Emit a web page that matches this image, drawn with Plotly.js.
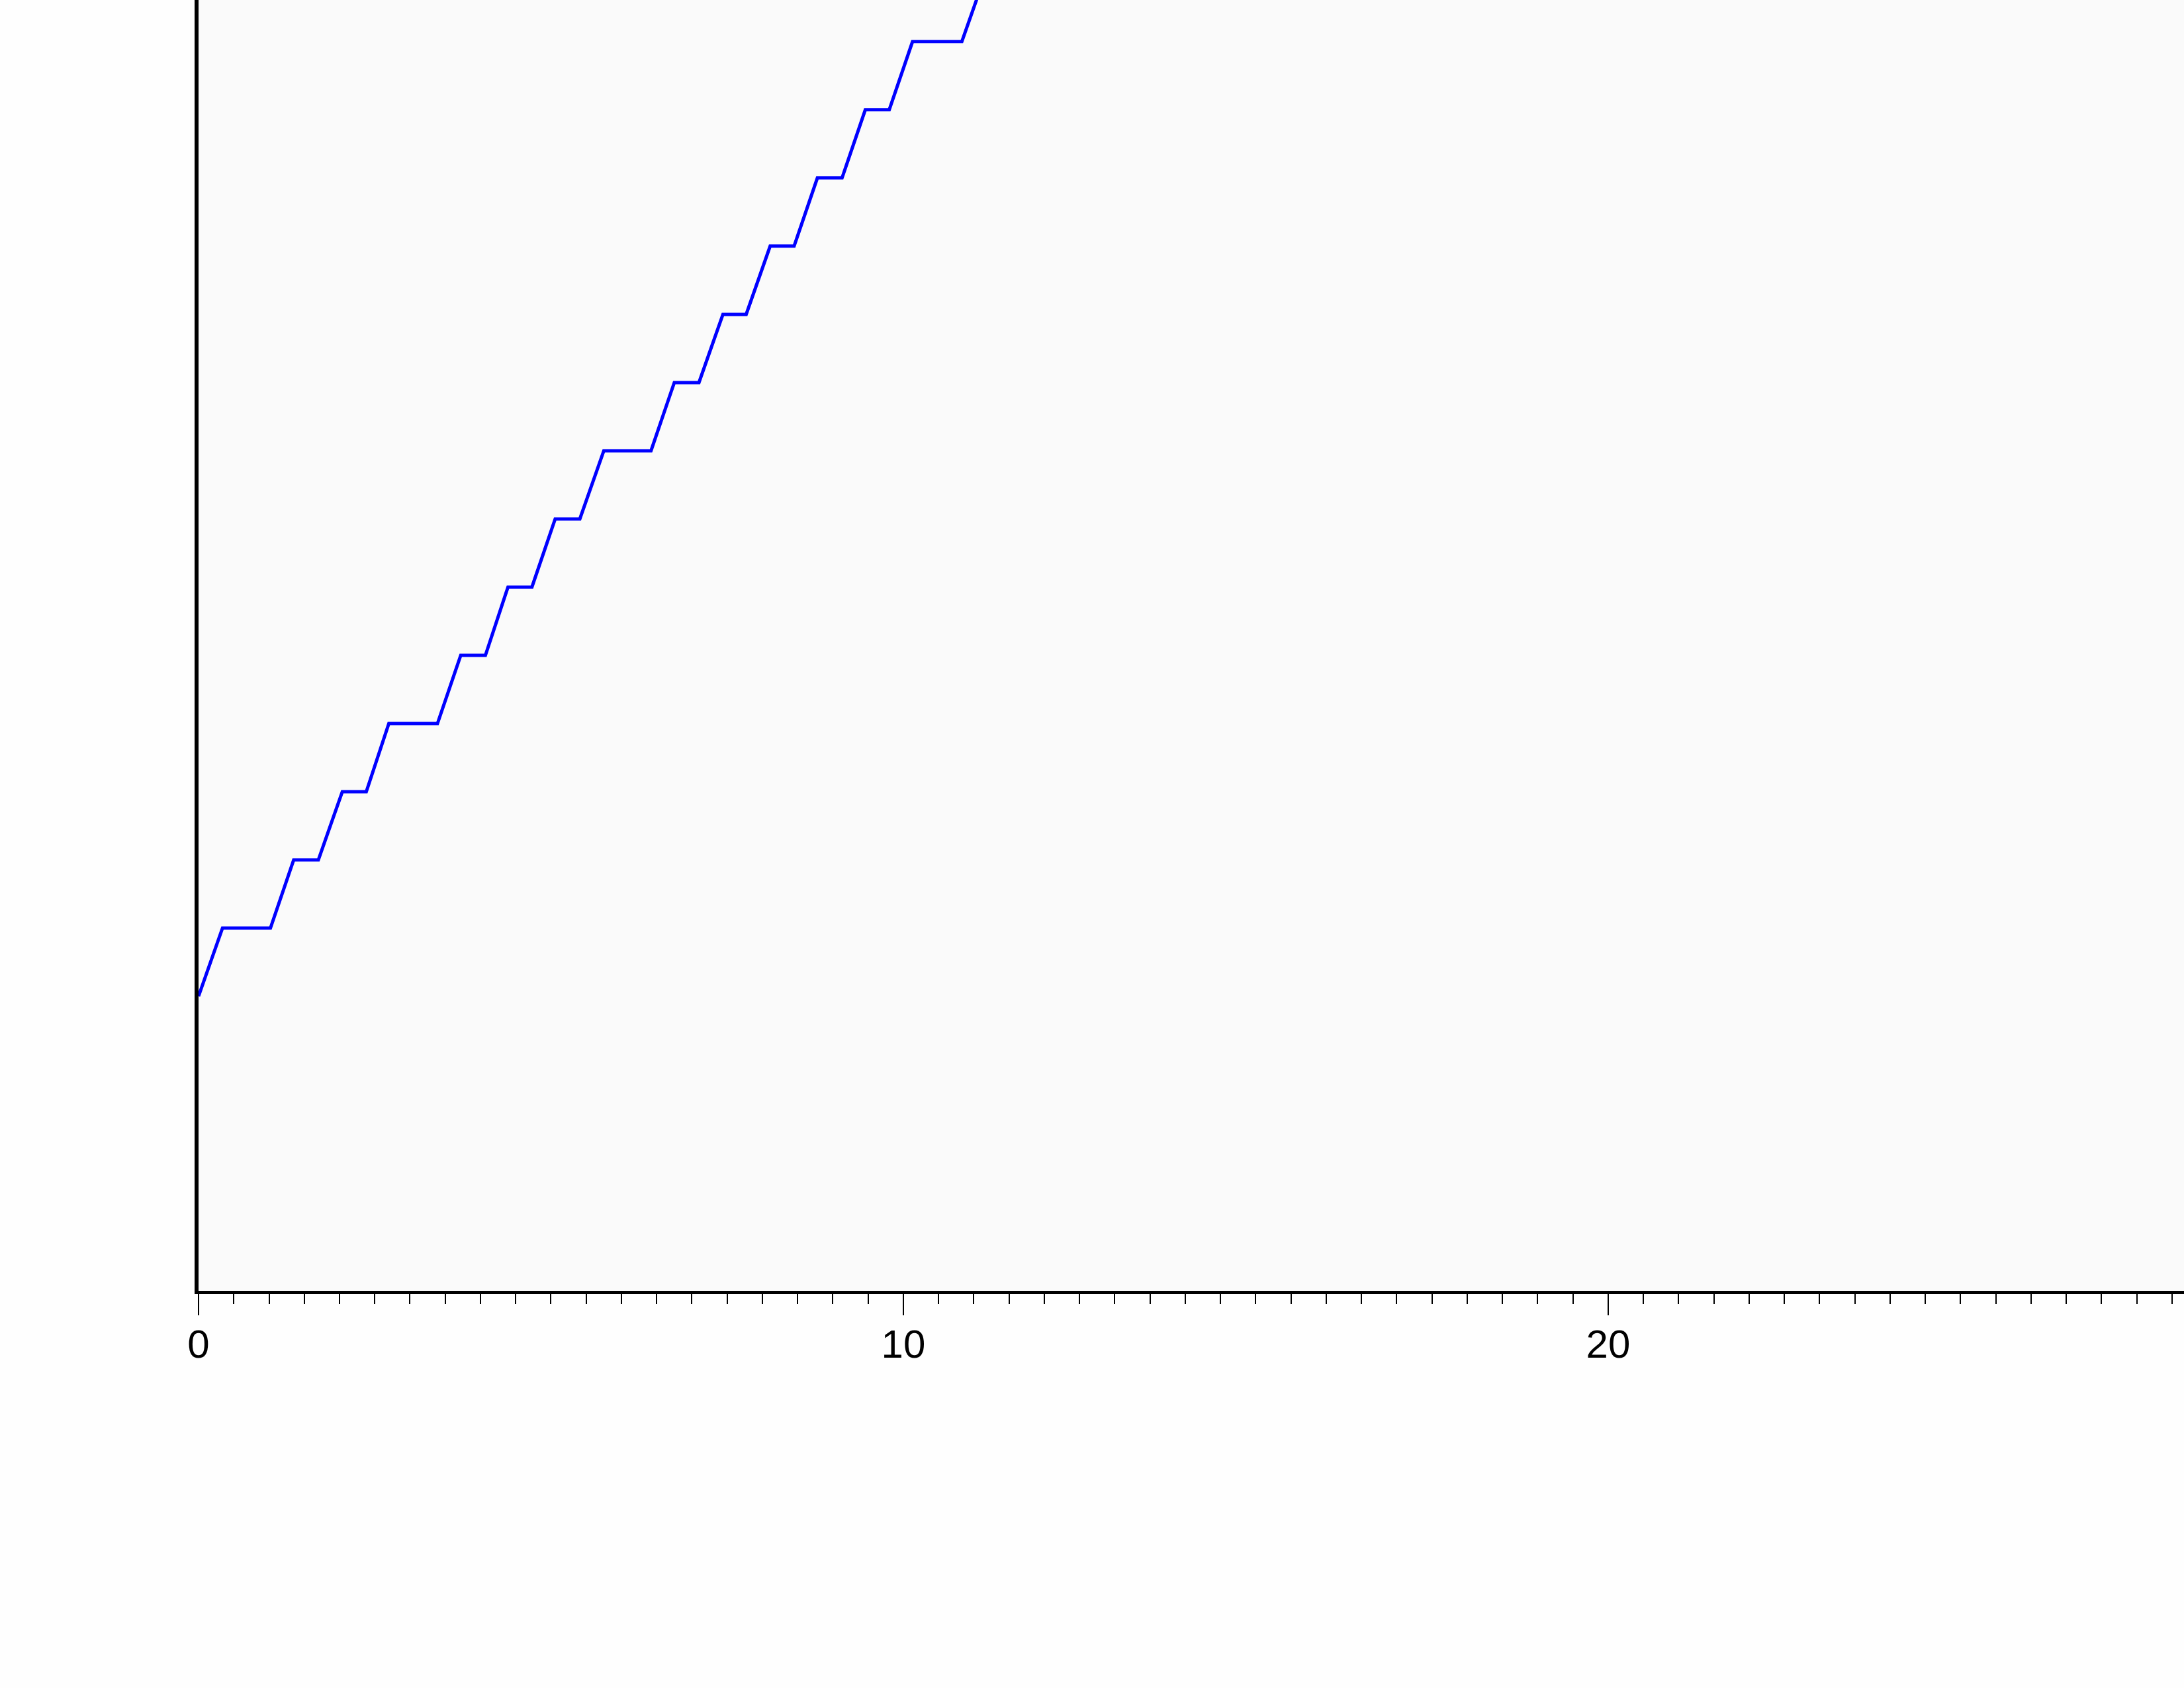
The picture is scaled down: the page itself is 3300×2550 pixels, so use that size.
<!DOCTYPE html>
<html>
<head>
<meta charset="utf-8">
<script src="https://cdn.plot.ly/plotly-3.0.1.min.js"></script>
<style>
  html, body { margin: 0; padding: 0; background: #fefefe; overflow: hidden; }
  #chart { width: 3300px; height: 2550px; }
</style>
</head>
<body>
<div id="chart"></div>
<script>
// Staircase series
const stepX = [0, 0.34, 1.02, 1.35, 1.70, 2.04, 2.38, 2.70, 3.39, 3.72, 4.07, 4.39, 4.73, 5.06, 5.41,
               5.75, 6.42, 6.75, 7.10, 7.44, 7.77, 8.11, 8.45, 8.78, 9.13, 9.46, 9.80, 10.13, 10.83, 11.17];
const stepY = [0, 1, 1, 2, 2, 3, 3, 4, 4, 5, 5, 6, 6, 7, 7,
               8, 8, 9, 9, 10, 10, 11, 11, 12, 12, 13, 13, 14, 14, 15];

// Axis tick values / labels
const xTickVals = [0, 10, 20];
const xTickText = ['0', '10', '20'];

const trace = {
  x: stepX,
  y: stepY,
  type: 'scatter',
  mode: 'lines',
  line: { color: '#0000ff', width: 5 },
  hoverinfo: 'none',
  showlegend: false
};

const layout = {
  width: 3300,
  height: 2550,
  margin: { l: 300, r: 0, t: 0, b: 600, pad: 0 },
  paper_bgcolor: '#fefefe',
  plot_bgcolor: '#fafafa',
  showlegend: false,
  xaxis: {
    range: [0, 28.17],
    showgrid: false,
    zeroline: false,
    showline: true,
    linecolor: '#000000',
    linewidth: 5,
    ticks: 'outside',
    ticklen: 32,
    tickwidth: 2,
    tickcolor: '#000000',
    tickmode: 'array',
    tickvals: xTickVals,
    ticktext: xTickText,
    ticklabelstandoff: -8,
    tickfont: { family: 'Liberation Sans, Arial, sans-serif', size: 60, color: '#000000' },
    minor: { dtick: 0.5, tick0: 0, ticks: 'outside', ticklen: 15, tickwidth: 2, tickcolor: '#000000', showgrid: false }
  },
  yaxis: {
    range: [-4.32, 14.61],
    showgrid: false,
    zeroline: false,
    showline: true,
    linecolor: '#000000',
    linewidth: 6,
    ticks: '',
    showticklabels: false
  }
};

Plotly.newPlot('chart', [trace], layout, { staticPlot: true, displayModeBar: false });
</script>
</body>
</html>
